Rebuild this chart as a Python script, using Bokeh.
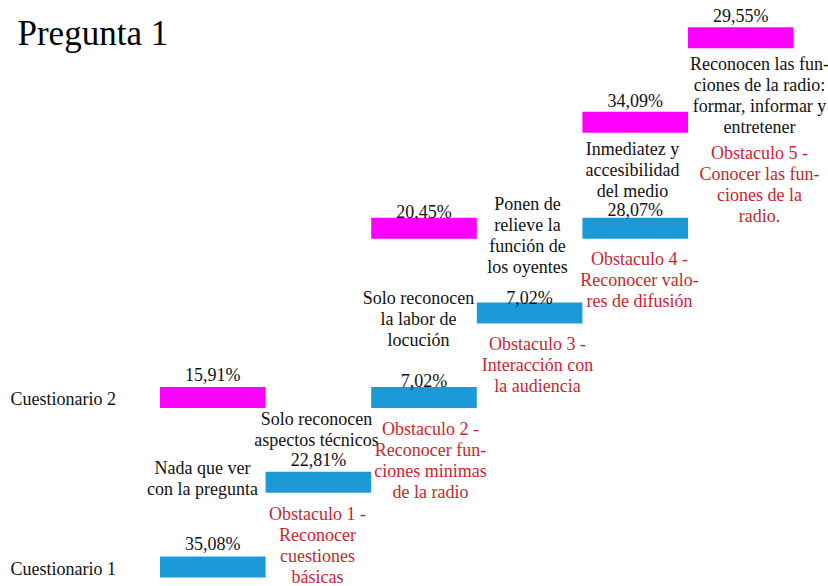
from bokeh.plotting import figure
from bokeh.models import Range1d, ColumnDataSource
from bokeh.core.properties import value
from bokeh.embed import file_html
from bokeh.resources import INLINE

# ---------------- data ----------------
title_text = "Pregunta 1"
series_names = ["Cuestionario 1", "Cuestionario 2"]
c1_steps = [0, 1, 2, 3, 4]
c1_values = [35.08, 22.81, 7.02, 7.02, 28.07]
c2_steps = [0, 2, 4, 5]
c2_values = [15.91, 20.45, 34.09, 29.55]
answer_labels = [
    "Nada que ver\ncon la pregunta",
    "Solo reconocen\naspectos técnicos",
    "Solo reconocen\nla labor de\nlocución",
    "Ponen de\nrelieve la\nfunción de\nlos oyentes",
    "Inmediatez y\naccesibilidad\ndel medio",
    "Reconocen las fun-\nciones de la radio:\nformar, informar y\nentretener",
]
obstacle_labels = [
    "Obstaculo 1 -\nReconocer\ncuestiones\nbásicas",
    "Obstaculo 2 -\nReconocer fun-\nciones minimas\nde la radio",
    "Obstaculo 3 -\nInteracción con\nla audiencia",
    "Obstaculo 4 -\nReconocer valo-\nres de difusión",
    "Obstaculo 5 -\nConocer las fun-\nciones de la\nradio.",
]

# ---------------- layout / style ----------------
BLUE = "#1b9ad7"
MAGENTA = "#ff00ff"
RED = "#cc1f2c"
FONT = "Liberation Serif"
FS = "18px"
W, H = 828, 586
X0, SX = 159.5, 105.6   # px of step 0 left edge, px per step
Y0, SY = 566.5, 84.7    # px of level 0 centre, px per level
LINE = 21.0

def dx(px):
    return (px - X0) / SX

def dy(py):
    return (Y0 - py) / SY

c1_levels = [0, 1, 2, 3, 4]
c2_levels = [2, 4, 5.25, 6.25]
c1_gap = [23, 22, 17, 15, 18]
c2_gap = [23, 16, 21, 22]
bar_h = 21.0 / SY
answer_pos = [(202, 467), (316, 418), (418, 297), (527, 203), (632, 148), (759, 63)]
obstacle_pos = [(317, 513), (430, 428), (537, 343), (639, 258), (759, 152)]

p = figure(width=W, height=H, output_backend="svg", toolbar_location=None,
           x_range=Range1d(dx(0), dx(W)), y_range=Range1d(dy(H), dy(0)),
           min_border=0)
p.axis.visible = False
p.grid.visible = False
p.outline_line_color = None
p.background_fill_color = "white"
p.border_fill_color = "white"

def fmt(v):
    return ("%.2f" % v).replace(".", ",") + "%"

for steps, levels, vals, gaps, color in [
    (c1_steps, c1_levels, c1_values, c1_gap, BLUE),
    (c2_steps, c2_levels, c2_values, c2_gap, MAGENTA),
]:
    src = ColumnDataSource(dict(
        left=[s for s in steps],
        right=[s + 1 for s in steps],
        bottom=[l - bar_h / 2 for l in levels],
        top=[l + bar_h / 2 for l in levels],
        lx=[s + 0.5 for s in steps],
        ly=[l + g / SY for l, g in zip(levels, gaps)],
        lt=[fmt(v) for v in vals],
    ))
    p.quad(left="left", right="right", bottom="bottom", top="top", source=src,
           fill_color=color, line_color=None)
    p.text(x="lx", y="ly", text="lt", source=src, text_align="center",
           text_baseline="middle", text_font=value(FONT), text_font_size=FS,
           text_color="#111111")

# series labels
p.text(x=[dx(10), dx(10)], y=[c1_levels[0] - 2 / SY, c2_levels[0] - 1 / SY],
       text=series_names, text_align="left", text_baseline="middle",
       text_font=value(FONT), text_font_size=FS, text_color="#111111")

def blocks(labels, positions, color):
    xs, ys, ts = [], [], []
    for lab, (px, py) in zip(labels, positions):
        for i, line in enumerate(lab.split("\n")):
            xs.append(dx(px))
            ys.append(dy(py + i * LINE))
            ts.append(line)
    p.text(x=xs, y=ys, text=ts, text_align="center", text_baseline="middle",
           text_font=value(FONT), text_font_size=FS, text_color=color)

blocks(answer_labels, answer_pos, "#111111")
blocks(obstacle_labels, obstacle_pos, RED)

# title
p.text(x=[dx(17)], y=[dy(33)], text=[title_text], text_align="left",
       text_baseline="alphabetic", text_font=value(FONT), text_font_size="35px",
       text_color="#000000")

open("out.html", "w").write(file_html(p, INLINE))
